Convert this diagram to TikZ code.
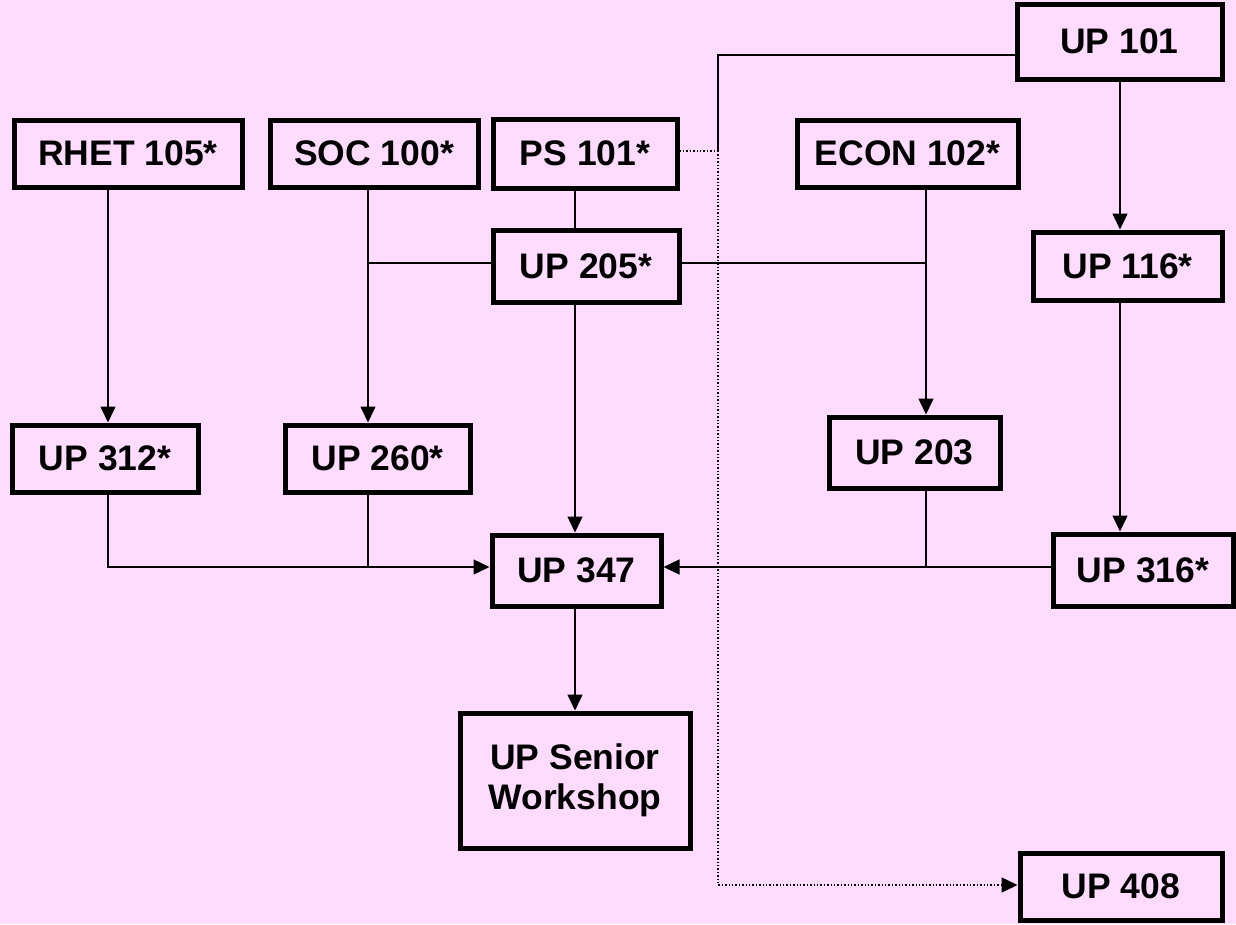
\documentclass[tikz,border=0pt]{standalone}
\usepackage{fontspec}
\setmainfont{Liberation Sans}
\usetikzlibrary{arrows.meta}
\definecolor{bgpink}{RGB}{255,220,255}
\begin{document}
\begin{tikzpicture}[x=1pt,y=-1pt,
  box/.style={draw=black, line width=5pt, inner sep=0pt, align=center,
    font=\fontsize{35.5}{40}\selectfont\bfseries},
  conn/.style={draw=black, line width=1.4pt},
  arr/.style={conn, -{Triangle[length=16pt,width=15pt]}},
  dotconn/.style={conn, dotted},
  dotarr/.style={dotconn, -{Triangle[length=16pt,width=15pt]}}]
\fill[bgpink] (0,0) rectangle (1236,924);
\useasboundingbox (0,0) rectangle (1236,924);
% boxes
\node[box, minimum width=228pt, minimum height=67pt] (rhet) at (128,153.5) {RHET 105*};
\node[box, minimum width=208pt, minimum height=67pt] (soc) at (374,153.5) {SOC 100*};
\node[box, minimum width=184pt, minimum height=69pt] (ps) at (585,153.5) {PS 101*};
\node[box, minimum width=221pt, minimum height=67pt] (econ) at (907.5,153.5) {ECON 102*};
\node[box, minimum width=205pt, minimum height=75pt] (up101) at (1119.5,41.5) {UP 101};
\node[box, minimum width=186pt, minimum height=72pt] (up205) at (586,266) {UP 205*};
\node[box, minimum width=189pt, minimum height=68pt] (up116) at (1127.5,266) {UP 116*};
\node[box, minimum width=186pt, minimum height=67pt] (up312) at (105,458.5) {UP 312*};
\node[box, minimum width=185pt, minimum height=67pt] (up260) at (377.5,458.5) {UP 260*};
\node[box, minimum width=171pt, minimum height=71pt] (up203) at (914.5,452.5) {UP 203};
\node[box, minimum width=180pt, minimum height=72pt] (up316) at (1143,570) {UP 316*};
\node[box, minimum width=169pt, minimum height=71pt] (up347) at (576.5,570.5) {UP 347};
\node[box, minimum width=230pt, minimum height=135pt] (senior) at (575,780.5) {UP Senior\\Workshop};
\node[box, minimum width=202pt, minimum height=67pt] (up408) at (1121,886.5) {UP 408};
% column / row coordinates
\coordinate (xa) at (108,0);
\coordinate (xb) at (368,0);
\coordinate (xc) at (575,0);
\coordinate (xd) at (718,0);
\coordinate (xe) at (926,0);
\coordinate (xf) at (1120,0);
\coordinate (ya) at (0,55);
\coordinate (yb) at (0,151);
\coordinate (yc) at (0,263);
\coordinate (yd) at (0,567);
\coordinate (ye) at (0,885);
\coordinate (jA) at (xd |- ya);
\coordinate (jB) at (xd |- yb);
\coordinate (jC) at (xd |- ye);
% connectors
\draw[arr] (rhet.south -| xa) -- (up312.north -| xa);
\draw[arr] (soc.south -| xb) -- (up260.north -| xb);
\draw[conn] (ps.south -| xc) -- (up205.north -| xc);
\draw[conn] (up205.west |- yc) -- (xb |- yc);
\draw[conn] (up205.east |- yc) -- (xe |- yc);
\draw[arr] (econ.south -| xe) -- (up203.north -| xe);
\draw[arr] (up101.south -| xf) -- (up116.north -| xf);
\draw[arr] (up116.south -| xf) -- (up316.north -| xf);
\draw[arr] (up205.south -| xc) -- (up347.north -| xc);
\draw[arr] (up312.south -| xa) -- (xa |- yd) -- (up347.west |- yd);
\draw[conn] (up260.south -| xb) -- (xb |- yd);
\draw[arr] (up316.west |- yd) -- (up347.east |- yd);
\draw[conn] (up203.south -| xe) -- (xe |- yd);
\draw[arr] (up347.south -| xc) -- (senior.north -| xc);
\draw[conn] (up101.west |- ya) -- (jA) -- (jB);
\draw[dotconn] (ps.east |- yb) -- (jB);
\draw[dotarr] (jB) -- (jC) -- (up408.west |- ye);
\end{tikzpicture}
\end{document}
